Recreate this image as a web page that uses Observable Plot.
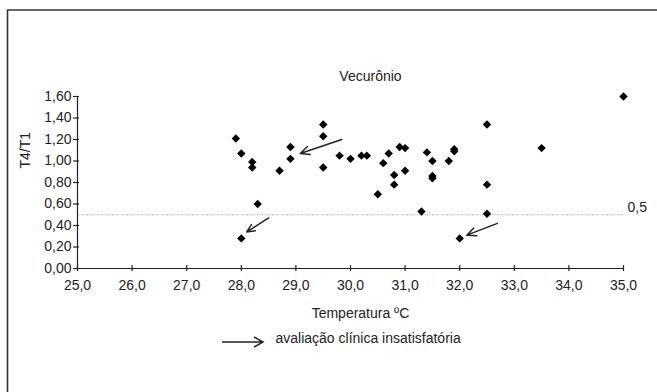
<!DOCTYPE html>
<html><head><meta charset="utf-8">
<script src="https://cdn.jsdelivr.net/npm/d3@7"></script>
<script src="https://cdn.jsdelivr.net/npm/@observablehq/plot@0.6"></script>
<style>body{margin:0;background:#fff} svg{display:block}</style>
</head><body><div id="chart"></div>
<script>
// Data
const temperature = [27.9, 28.0, 28.2, 28.2, 28.3, 28.0, 28.7, 28.9, 28.9, 29.5, 29.5, 29.5, 29.8, 30.0, 30.2, 30.3, 30.5, 30.6, 30.7, 30.8, 30.8, 30.9, 31.0, 31.0, 31.3, 31.4, 31.5, 31.5, 31.5, 31.8, 31.9, 31.9, 32.0, 32.5, 32.5, 32.5, 33.5, 35.0];
const ratio       = [1.21, 1.07, 0.99, 0.94, 0.60, 0.28, 0.91, 1.13, 1.02, 1.34, 1.23, 0.94, 1.05, 1.02, 1.05, 1.05, 0.69, 0.98, 1.07, 0.87, 0.78, 1.13, 1.12, 0.91, 0.53, 1.08, 1.00, 0.86, 0.84, 1.00, 1.11, 1.09, 0.28, 1.34, 0.78, 0.51, 1.12, 1.60];

// Arrows marking unsatisfactory clinical evaluation (tail -> head)
const arrowFromX = [29.84, 28.50, 32.69];
const arrowFromY = [1.20, 0.47, 0.42];
const arrowToX   = [29.08, 28.10, 32.13];
const arrowToY   = [1.07, 0.34, 0.31];

const xTicks = [25, 26, 27, 28, 29, 30, 31, 32, 33, 34, 35];
const yTicks = [0, 0.2, 0.4, 0.6, 0.8, 1.0, 1.2, 1.4, 1.6];
const threshold = [0.5];

const titleText = "Vecurônio";
const xLabel = "Temperatura ºC";
const yLabel = "T4/T1";
const legendText = "avaliação clínica insatisfatória";
const thresholdLabel = "0,5";

const points = temperature.map((t, i) => ({t, r: ratio[i]}));
const arrows = arrowFromX.map((x, i) => ({x1: x, y1: arrowFromY[i], x2: arrowToX[i], y2: arrowToY[i]}));

const ink = "#222";
const font = "'Liberation Sans', Arial, Helvetica, sans-serif";

const chart = Plot.plot({
  width: 657, height: 392,
  marginLeft: 77, marginRight: 34, marginTop: 96, marginBottom: 124,
  x: {domain: [25, 35]},
  y: {domain: [0, 1.6]},
  style: {fontFamily: font, fontSize: "14px", color: ink, background: "#fff", overflow: "visible"},
  marks: [
    Plot.ruleY(threshold, {y: d => d, stroke: "#999", strokeDasharray: "1,1.5", strokeWidth: 1}),
    Plot.ruleY([0], {stroke: ink, strokeWidth: 1.2}),
    Plot.ruleX([25], {y1: 0, y2: 1.6, stroke: ink, strokeWidth: 1.2}),
    Plot.ruleX(xTicks, {x: d => d, y1: 0, y2: 0, insetTop: -3, insetBottom: -3, stroke: ink, strokeWidth: 1.2}),
    Plot.ruleY(yTicks, {y: d => d, x1: 25, x2: 25, insetLeft: -4, insetRight: -2, stroke: ink, strokeWidth: 1.2}),
    Plot.axisX(xTicks, {tickSize: 0, tickPadding: 12, tickFormat: d => d.toFixed(1).replace(".", ","), label: null, fontSize: 14, fill: ink}),
    Plot.axisY(yTicks, {tickSize: 0, tickPadding: 6, tickFormat: d => d.toFixed(2).replace(".", ","), label: null, fontSize: 14, fill: ink}),
    Plot.dot(points, {x: "t", y: "r", symbol: "diamond2", r: 3.8, fill: "#000", stroke: null}),
    Plot.arrow(arrows, {x1: "x1", y1: "y1", x2: "x2", y2: "y2", stroke: ink, strokeWidth: 1.5, headLength: 10, headAngle: 50}),
    Plot.text([titleText], {text: d => d, frameAnchor: "top", dx: 20, dy: -25, fontSize: 14, fill: ink}),
    Plot.text(threshold, {y: d => d, text: () => thresholdLabel, frameAnchor: "right", textAnchor: "start", dx: 4, dy: -7, fontSize: 14, fill: ink}),
    Plot.text([xLabel], {text: d => d, frameAnchor: "bottom", dx: 10, dy: 49, fontSize: 14, fill: ink}),
    Plot.text([yLabel], {text: d => d, frameAnchor: "left", dx: -52, dy: -14, rotate: -90, fontSize: 14, fill: ink}),
    Plot.text([legendText], {text: d => d, frameAnchor: "bottom-left", dx: 198, dy: 74, textAnchor: "start", fontSize: 14, fill: ink})
  ]
});

const svg = d3.select(chart);
// legend arrow sample
svg.append("path")
  .attr("d", "M222,342H263M254,337L263,342L254,347")
  .attr("fill", "none").attr("stroke", ink).attr("stroke-width", 1.5);
// outer frame (top and left edges)
svg.append("path")
  .attr("d", "M7.5,392V10H657")
  .attr("fill", "none").attr("stroke", "#333").attr("stroke-width", 1.6);

document.getElementById("chart").appendChild(chart);
</script>
</body></html>
